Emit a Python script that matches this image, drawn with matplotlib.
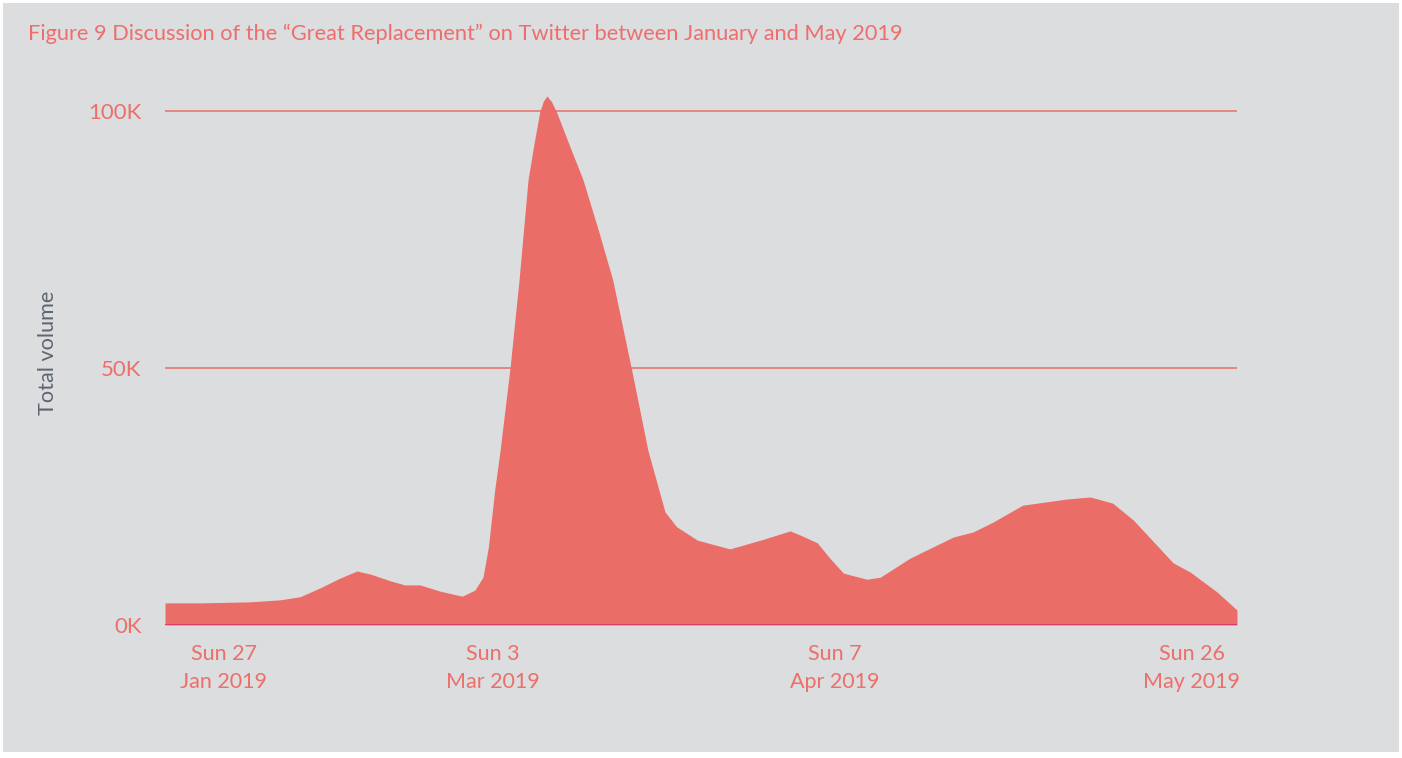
import matplotlib.pyplot as plt
from matplotlib.patches import Rectangle

# days since Sun 27 Jan 2019
days = [0, 3.9, 9.4, 12.8, 15.0, 17.2, 19.4, 21.3, 22.8, 25.0, 26.6, 28.3, 30.5,
        33.0, 34.4, 35.3, 35.9, 36.6, 37.2, 38.3, 39.3, 40.3, 40.9, 41.6, 42.0,
        42.4, 42.9, 43.5, 45.0, 46.4, 48.1, 49.7, 51.8, 53.6, 55.5, 56.8, 59.1,
        62.7, 66.1, 69.4, 70.5, 72.4, 73.8, 75.3, 77.9, 79.4, 82.7, 87.5, 89.7,
        91.9, 95.2, 100.1, 102.7, 105.2, 107.5, 111.9, 113.8, 116.8, 119.0]
# total volume, thousands
volume = [4.3, 4.3, 4.5, 4.9, 5.5, 7.2, 9.1, 10.5, 9.9, 8.6, 7.8, 7.8, 6.6,
          5.6, 6.8, 9.3, 15.2, 26.3, 34.0, 50.0, 67.1, 86.6, 93.0, 99.8, 101.9,
          102.9, 101.8, 99.6, 92.8, 86.6, 76.8, 67.1, 49.6, 34.0, 22.0, 19.1, 16.5,
          14.8, 16.5, 18.3, 17.5, 16.0, 13.0, 10.1, 8.9, 9.3, 13.0, 17.1, 18.1,
          20.0, 23.3, 24.5, 24.9, 23.7, 20.4, 12.1, 10.3, 6.4, 2.9]

tick_pos = [6.5, 36.4, 74.3, 114.0]
tick_labels = ["Sun 27\nJan 2019", "Sun 3\nMar 2019", "Sun 7\nApr 2019", "Sun 26\nMay 2019"]
y_ticks = [0, 50, 100]
y_labels = ["0K", "50K", "100K"]

bg = "#dcdddf"
red = "#ea6d67"
text_red = "#ec6f6a"

plt.rcParams["font.family"] = ["Lato", "DejaVu Sans"]

fig = plt.figure(figsize=(14.02, 7.58), dpi=100, facecolor="white")
fig.patches.append(Rectangle((3 / 1402, 6 / 758), 1396 / 1402, 749 / 758,
                             transform=fig.transFigure, facecolor=bg,
                             edgecolor="none", zorder=-10))

ax = fig.add_axes([165 / 1402, 1 - 625 / 758, 1072 / 1402, 545 / 758])
ax.set_facecolor("none")

ax.fill_between(days, volume, 0, color=red, linewidth=0, zorder=2)
ax.axhline(0, color="#df3a62", linewidth=1.5, zorder=3)
for v in [50, 100]:
    ax.axhline(v, color="#e57873", linewidth=1.2, zorder=1)

ax.set_xlim(0, 119)
ax.set_ylim(0, 106)

for s in ax.spines.values():
    s.set_visible(False)

ax.set_yticks(y_ticks)
ax.set_yticklabels(y_labels)
ax.set_xticks(tick_pos)
ax.set_xticklabels(tick_labels, linespacing=1.45)
ax.tick_params(axis="both", length=0, labelsize=15.5, labelcolor=text_red)
ax.tick_params(axis="y", pad=17)
ax.tick_params(axis="x", pad=14)
for lbl in ax.get_yticklabels():
    lbl.set_fontsize(16)

ax.set_ylabel("Total volume", color="#5d6670", fontsize=15.6, labelpad=22)

fig.text(28 / 1402, 1 - 34 / 758, "Figure 9 Discussion of the \u201cGreat Replacement\u201d on Twitter between January and May 2019",
         color="#ef6d6c", fontsize=15.7, ha="left", va="center")

fig.savefig("out.png", dpi=100, facecolor="white")
